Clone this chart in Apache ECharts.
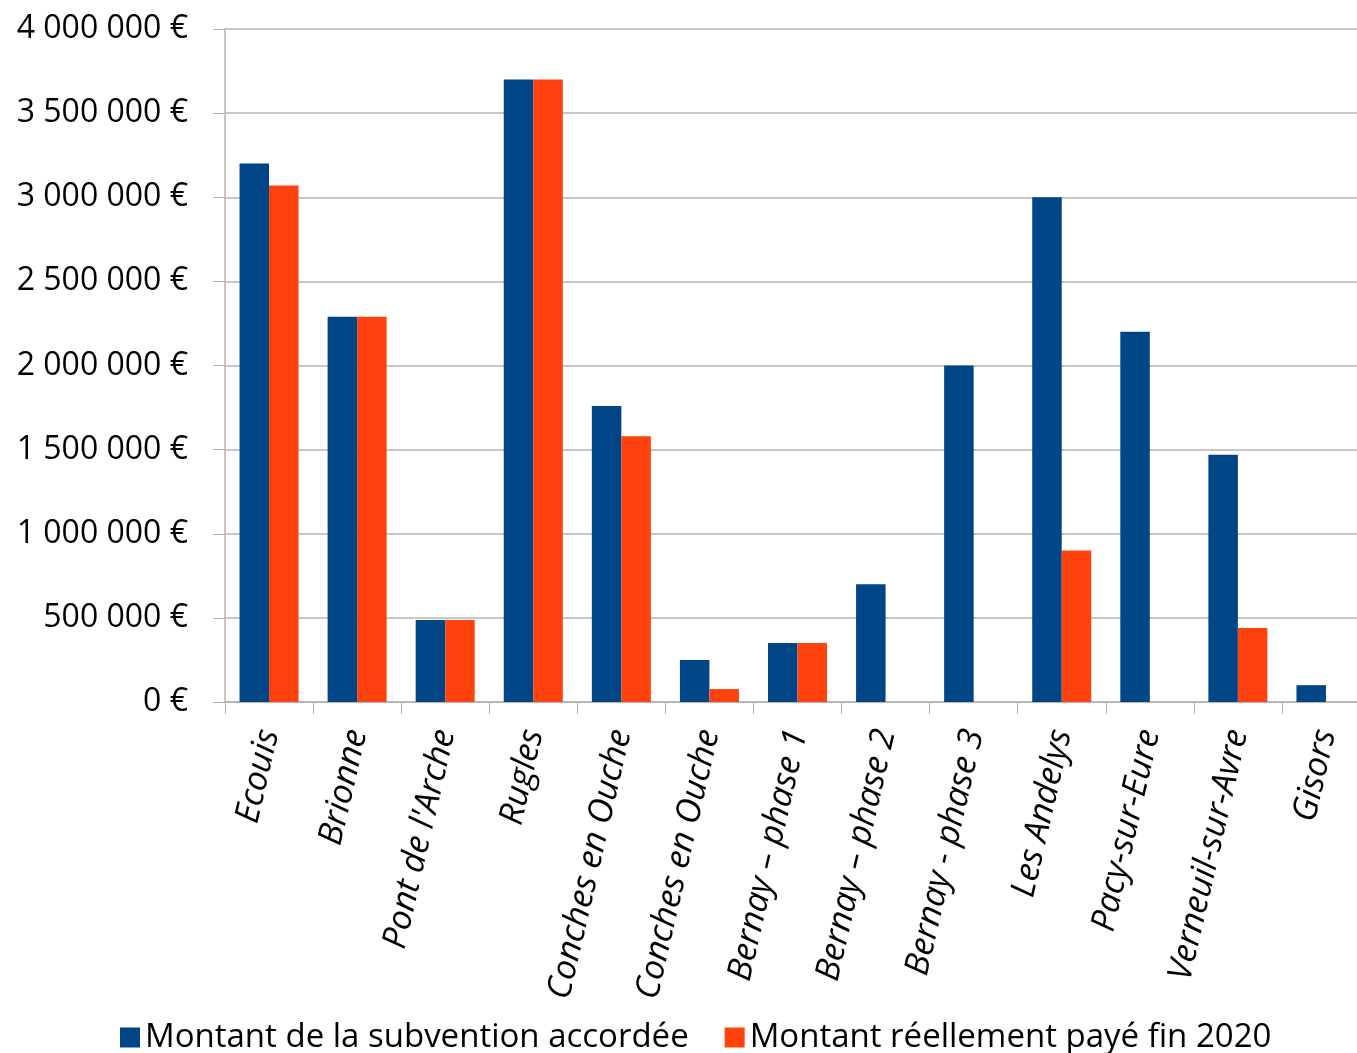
<!DOCTYPE html>
<html>
<head>
<meta charset="utf-8">
<script src="https://cdn.jsdelivr.net/npm/echarts@6/dist/echarts.min.js"></script>
<style>
  html, body { margin: 0; padding: 0; background: #fff; }
  #chart { width: 1357px; height: 1053px; }
</style>
</head>
<body>
<div id="chart"></div>
<script>
// communes / phases
const categories = [
  'Ecouis', 'Brionne', "Pont de l'Arche", 'Rugles', 'Conches en Ouche',
  'Conches en Ouche', 'Bernay – phase 1', 'Bernay – phase 2', 'Bernay - phase 3',
  'Les Andelys', 'Pacy-sur-Eure', 'Verneuil-sur-Avre', 'Gisors'
]
// montant accordé
const subvention = [3200000, 2290000, 487000, 3700000, 1760000, 250000, 350000, 700000, 2000000, 3000000, 2200000, 1470000, 100000]
// montant payé fin 2020
const paye = [3070000, 2290000, 487000, 3700000, 1580000, 77000, 350000, null, null, 900000, null, 440000, null]

const seriesNames = ['Montant de la subvention accordée', 'Montant réellement payé fin 2020']

const fontFamily = '"Open Sans", sans-serif'

function euro(v) {
  return String(v).replace(/\B(?=(\d{3})+(?!\d))/g, ' ') + ' €'
}

const chart = echarts.init(document.getElementById('chart'))
chart.setOption({
  animation: false,
  textStyle: { fontFamily: fontFamily },
  grid: {
    left: 225,
    top: 29,
    width: 1145,
    height: 673,
    containLabel: false,
    outerBoundsMode: 'none'
  },
  legend: {
    data: seriesNames,
    top: 1016,
    left: 115,
    itemWidth: 20,
    itemHeight: 20,
    itemGap: 36,
    icon: 'rect',
    textStyle: {
      color: '#000',
      fontSize: 33,
      fontFamily: fontFamily
    }
  },
  xAxis: {
    type: 'category',
    data: categories,
    axisLine: { lineStyle: { color: '#b3b3b3', width: 1.5 } },
    axisTick: { show: true, length: 12, lineStyle: { color: '#b3b3b3' } },
    axisLabel: {
      rotate: 77,
      margin: 28,
      interval: 0,
      color: '#000',
      fontSize: 34,
      fontStyle: 'italic',
      fontFamily: fontFamily
    }
  },
  yAxis: {
    type: 'value',
    min: 0,
    max: 4000000,
    interval: 500000,
    axisLine: { show: true, lineStyle: { color: '#b3b3b3', width: 1.5 } },
    axisTick: { show: true, length: 12, lineStyle: { color: '#b3b3b3' } },
    splitLine: { lineStyle: { color: '#b3b3b3', width: 1.5 } },
    axisLabel: {
      margin: 37,
      color: '#000',
      fontSize: 32,
      fontFamily: fontFamily,
      formatter: euro
    }
  },
  series: [
    {
      name: seriesNames[0],
      type: 'bar',
      data: subvention,
      barGap: '0%',
      barCategoryGap: '33%',
      itemStyle: { color: '#004586' }
    },
    {
      name: seriesNames[1],
      type: 'bar',
      data: paye,
      itemStyle: { color: '#ff420e' }
    }
  ]
})
</script>
</body>
</html>
